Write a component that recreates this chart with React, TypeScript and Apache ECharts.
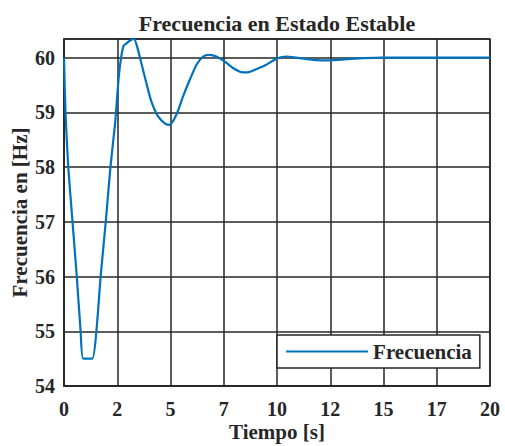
import React, { useEffect, useRef } from "react";
import * as echarts from "echarts";

const titleText = "Frecuencia en Estado Estable";
const xName = "Tiempo [s]";
const yName = "Frecuencia en [Hz]";
const seriesName = "Frecuencia";

const time = [
  0, 0.07, 0.2, 0.4, 0.6, 0.78, 0.9, 1.33, 1.52, 1.72, 1.96, 2.18, 2.4, 2.44, 2.56, 2.68, 2.8,
  2.9, 3.05, 3.28, 3.42, 3.63, 3.87, 4.1, 4.41, 4.73, 4.96, 5.28, 5.59, 5.9, 6.22, 6.53, 6.84, 7.15,
  7.54, 7.93, 8.4, 8.72, 9.1, 9.5, 9.97, 10.44, 10.9, 11.69, 12.47, 13.26, 14.04, 15, 20,
];
const freq = [
  60, 59, 58, 57, 56, 55, 54.5, 54.5, 55, 56, 57, 58, 58.8, 59, 59.6, 60, 60.22,
  60.25, 60.3, 60.34, 60.22, 59.9, 59.53, 59.2, 58.93, 58.8, 58.77, 58.96, 59.29, 59.59, 59.87, 60.02, 60.05, 60.02,
  59.93, 59.81, 59.73, 59.74, 59.8, 59.87, 59.98, 60.02, 60.0, 59.96, 59.95, 59.97, 59.99, 60, 60,
];

const xTickLabels = ["0", "2", "5", "7", "10", "12", "15", "17", "20"];
const xMin = 0;
const xMax = 20;
const xInterval = 2.5;
const yMin = 54;
const yMax = 60.34;
const yInterval = 1;

const FONT = "'Liberation Serif', 'Times New Roman', serif";
const INK = "#262626";
const BLUE = "#0072BD";

export default function App() {
  const ref = useRef<HTMLDivElement>(null);
  useEffect(() => {
    if (!ref.current) return;
    const chart = echarts.init(ref.current, undefined, { renderer: "svg" });
    const data = time.map((t, i) => [t, freq[i]]);
    chart.setOption({
      animation: false,
      backgroundColor: "#ffffff",
      title: {
        text: titleText,
        left: 272,
        textAlign: "center",
        top: 7,
        textStyle: { fontFamily: FONT, fontWeight: "bold", fontSize: 22, color: INK },
      },
      grid: {
        left: 64,
        right: 15,
        top: 39,
        bottom: 60,
        outerBoundsMode: "none",
        containLabel: false,
        show: true,
        borderColor: INK,
        borderWidth: 1.5,
      },
      legend: {
        data: [seriesName],
        left: 277,
        top: 335,
        padding: [6, 8, 6, 8],
        itemWidth: 82,
        itemHeight: 14,
        borderColor: INK,
        borderWidth: 1.5,
        backgroundColor: "#ffffff",
        itemStyle: { opacity: 0 },
        lineStyle: { color: BLUE, width: 2.2 },
        textStyle: { fontFamily: FONT, fontWeight: "bold", fontSize: 21, color: INK },
      },
      xAxis: {
        type: "value",
        min: xMin,
        max: xMax,
        interval: xInterval,
        name: xName,
        nameLocation: "middle",
        nameGap: 35,
        nameMoveOverlap: false,
        nameTextStyle: { fontFamily: FONT, fontWeight: "bold", fontSize: 21, color: INK },
        axisLine: { show: true, lineStyle: { color: INK, width: 1.5 } },
        axisTick: { show: false },
        splitLine: { show: true, lineStyle: { color: INK, width: 1.5 } },
        axisLabel: {
          margin: 13,
          fontFamily: FONT,
          fontWeight: "bold",
          fontSize: 20,
          color: INK,
          formatter: (_v: number, i: number) => xTickLabels[i] ?? "",
        },
      },
      yAxis: {
        type: "value",
        min: yMin,
        max: yMax,
        interval: yInterval,
        name: yName,
        nameLocation: "middle",
        nameGap: 34,
        nameMoveOverlap: false,
        nameTextStyle: { fontFamily: FONT, fontWeight: "bold", fontSize: 21, color: INK },
        axisLine: { show: true, lineStyle: { color: INK, width: 1.5 } },
        axisTick: { show: false },
        splitLine: { show: true, lineStyle: { color: INK, width: 1.5 } },
        axisLabel: {
          margin: 9,
          showMaxLabel: false,
          fontFamily: FONT,
          fontWeight: "bold",
          fontSize: 20,
          color: INK,
        },
      },
      series: [
        {
          name: seriesName,
          type: "line",
          data,
          symbol: "none",
          smooth: 0.2,
          lineStyle: { color: BLUE, width: 2.2 },
          itemStyle: { color: BLUE },
        },
      ],
    });
    return () => chart.dispose();
  }, []);
  return (
    <div
      ref={ref}
      style={{ position: "absolute", left: 0, top: 0, width: 505, height: 446 }}
    />
  );
}
